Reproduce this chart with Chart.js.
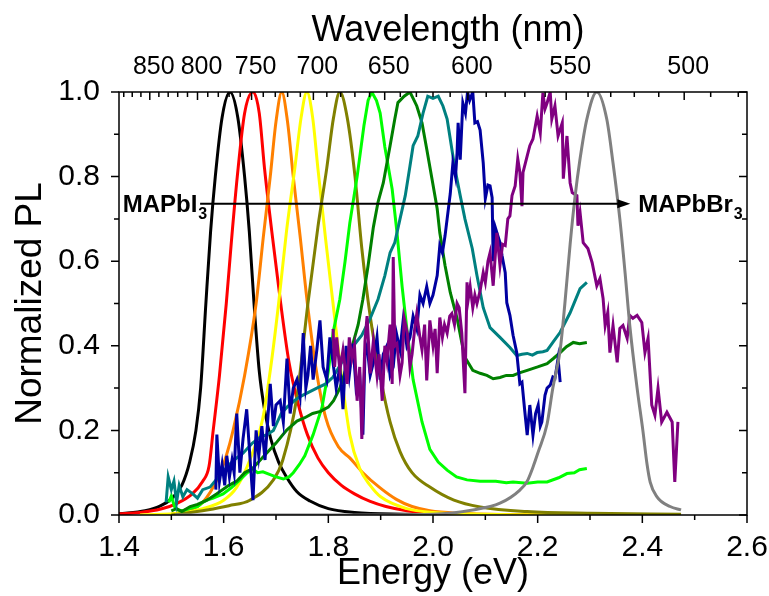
<!DOCTYPE html>
<html>
<head>
<meta charset="utf-8">
<script src="https://cdn.jsdelivr.net/npm/chart.js@4.4.1/dist/chart.umd.min.js"></script>
<style>
  html, body { margin: 0; padding: 0; background: #fff; }
  #wrap { width: 769px; height: 596px; }
</style>
</head>
<body>
<div id="wrap"><canvas id="pl-chart" width="769" height="596"></canvas></div>
<script>
// PL spectra, [energy (eV), normalized PL]
const black = [[1.40,0.003],[1.45,0.01],[1.48,0.022],[1.50,0.038],[1.52,0.07],[1.535,0.125],[1.547,0.2],[1.556,0.3],[1.566,0.5],[1.575,0.67],[1.584,0.8],[1.597,0.94],[1.612,1.0],[1.627,0.94],[1.64,0.8],[1.649,0.67],[1.658,0.5],[1.668,0.34],[1.678,0.25],[1.69,0.18],[1.705,0.125],[1.72,0.09],[1.74,0.055],[1.765,0.033],[1.80,0.015],[1.85,0.006],[1.95,0.002],[2.05,0]];
const red = [[1.40,0.003],[1.44,0.006],[1.48,0.014],[1.51,0.027],[1.54,0.05],[1.56,0.08],[1.572,0.115],[1.58,0.2],[1.592,0.33],[1.605,0.5],[1.615,0.65],[1.626,0.8],[1.64,0.95],[1.656,1.0],[1.668,0.95],[1.678,0.82],[1.692,0.67],[1.709,0.5],[1.725,0.36],[1.743,0.26],[1.76,0.19],[1.78,0.135],[1.80,0.1],[1.825,0.07],[1.85,0.05],[1.88,0.032],[1.91,0.02],[1.95,0.01],[2.0,0.004],[2.1,0.001],[2.3,0]];
const orange = [[1.50,0.002],[1.53,0.01],[1.56,0.03],[1.59,0.09],[1.605,0.14],[1.618,0.2],[1.64,0.33],[1.662,0.5],[1.676,0.66],[1.689,0.8],[1.70,0.93],[1.711,1.0],[1.722,0.93],[1.733,0.8],[1.746,0.66],[1.76,0.5],[1.776,0.35],[1.795,0.23],[1.82,0.16],[1.841,0.135],[1.866,0.1],[1.899,0.064],[1.93,0.037],[1.96,0.02],[1.994,0.01],[2.05,0.004],[2.15,0.001],[2.3,0]];
const yellow = [[1.44,0],[1.52,0.005],[1.56,0.015],[1.60,0.035],[1.625,0.066],[1.65,0.13],[1.675,0.23],[1.69,0.35],[1.705,0.5],[1.72,0.67],[1.736,0.82],[1.748,0.94],[1.759,1.0],[1.77,0.94],[1.78,0.82],[1.795,0.65],[1.809,0.5],[1.825,0.33],[1.841,0.19],[1.86,0.11],[1.88,0.07],[1.90,0.043],[1.95,0.015],[2.0,0.006],[2.1,0.002],[2.29,0]];
const olive = [[1.50,0],[1.568,0.012],[1.61,0.022],[1.65,0.035],[1.695,0.083],[1.713,0.13],[1.74,0.28],[1.761,0.5],[1.78,0.68],[1.797,0.82],[1.81,0.94],[1.822,1.0],[1.836,0.94],[1.851,0.8],[1.864,0.63],[1.88,0.47],[1.899,0.33],[1.918,0.22],[1.937,0.15],[1.96,0.1],[1.994,0.066],[2.04,0.035],[2.09,0.019],[2.18,0.008],[2.3,0.004],[2.474,0.002]];
const lime = [[1.495,0.03],[1.50,0.045],[1.506,0.02],[1.512,0.012],[1.522,0.01],[1.535,0.015],[1.55,0.02],[1.56,0.03],[1.568,0.035],[1.58,0.04],[1.599,0.05],[1.615,0.065],[1.631,0.083],[1.645,0.1],[1.656,0.108],[1.665,0.1],[1.675,0.102],[1.69,0.095],[1.70,0.09],[1.714,0.085],[1.725,0.09],[1.733,0.1],[1.745,0.12],[1.755,0.14],[1.771,0.19],[1.788,0.255],[1.80,0.34],[1.809,0.43],[1.822,0.51],[1.832,0.6],[1.841,0.69],[1.855,0.8],[1.868,0.92],[1.876,0.98],[1.883,1.0],[1.892,0.98],[1.899,0.95],[1.908,0.87],[1.922,0.77],[1.931,0.67],[1.941,0.54],[1.95,0.44],[1.962,0.32],[1.979,0.22],[1.994,0.155],[2.01,0.125],[2.027,0.106],[2.045,0.09],[2.065,0.083],[2.09,0.08],[2.12,0.08],[2.14,0.076],[2.153,0.078],[2.18,0.075],[2.2,0.078],[2.218,0.078],[2.24,0.088],[2.256,0.098],[2.27,0.1],[2.28,0.107],[2.294,0.11]];
const green = [[1.50,0.01],[1.51,0.015],[1.52,0.008],[1.536,0.02],[1.55,0.025],[1.568,0.035],[1.587,0.05],[1.61,0.07],[1.625,0.08],[1.64,0.1],[1.655,0.11],[1.67,0.13],[1.685,0.15],[1.70,0.17],[1.72,0.2],[1.74,0.222],[1.755,0.23],[1.77,0.24],[1.785,0.245],[1.80,0.255],[1.81,0.27],[1.822,0.3],[1.835,0.35],[1.847,0.405],[1.857,0.45],[1.866,0.51],[1.876,0.59],[1.886,0.68],[1.895,0.74],[1.905,0.785],[1.918,0.873],[1.927,0.936],[1.933,0.975],[1.945,0.99],[1.956,1.0],[1.962,0.985],[1.969,0.967],[1.979,0.927],[1.988,0.865],[1.998,0.795],[2.008,0.724],[2.013,0.667],[2.023,0.59],[2.033,0.526],[2.046,0.465],[2.055,0.408],[2.061,0.373],[2.076,0.342],[2.09,0.335],[2.103,0.33],[2.115,0.322],[2.128,0.325],[2.14,0.33],[2.153,0.33],[2.165,0.336],[2.18,0.342],[2.2,0.35],[2.218,0.358],[2.23,0.37],[2.243,0.384],[2.255,0.398],[2.268,0.408],[2.28,0.405],[2.294,0.408]];
const teal = [[1.49,0.03],[1.494,0.09],[1.50,0.06],[1.505,0.08],[1.51,0.03],[1.515,0.07],[1.522,0.043],[1.53,0.06],[1.541,0.05],[1.55,0.04],[1.56,0.06],[1.574,0.066],[1.59,0.09],[1.606,0.113],[1.62,0.13],[1.637,0.146],[1.655,0.17],[1.67,0.184],[1.683,0.19],[1.695,0.2],[1.71,0.24],[1.721,0.255],[1.735,0.27],[1.746,0.28],[1.762,0.29],[1.778,0.30],[1.795,0.31],[1.809,0.326],[1.83,0.37],[1.851,0.405],[1.864,0.425],[1.88,0.465],[1.895,0.51],[1.908,0.566],[1.918,0.62],[1.927,0.644],[1.937,0.70],[1.947,0.755],[1.956,0.825],[1.962,0.873],[1.971,0.896],[1.981,0.95],[1.99,0.99],[2.0,0.985],[2.01,0.99],[2.019,0.967],[2.027,0.936],[2.033,0.889],[2.042,0.818],[2.052,0.755],[2.061,0.70],[2.075,0.63],[2.084,0.566],[2.096,0.49],[2.109,0.443],[2.128,0.42],[2.147,0.396],[2.16,0.377],[2.17,0.38],[2.18,0.382],[2.19,0.378],[2.199,0.384],[2.21,0.386],[2.218,0.389],[2.229,0.408],[2.243,0.432],[2.262,0.478],[2.281,0.535],[2.294,0.55]];
const navy = [[1.585,0.06],[1.587,0.19],[1.592,0.08],[1.597,0.12],[1.602,0.07],[1.606,0.14],[1.611,0.09],[1.616,0.13],[1.62,0.1],[1.625,0.24],[1.631,0.1],[1.637,0.18],[1.644,0.25],[1.65,0.14],[1.656,0.035],[1.662,0.2],[1.667,0.14],[1.673,0.21],[1.679,0.13],[1.684,0.22],[1.689,0.31],[1.695,0.21],[1.70,0.26],[1.708,0.27],[1.714,0.22],[1.721,0.37],[1.727,0.24],[1.733,0.3],[1.74,0.32],[1.746,0.28],[1.752,0.43],[1.757,0.3],[1.761,0.33],[1.766,0.4],[1.771,0.32],[1.778,0.39],[1.784,0.46],[1.79,0.35],[1.797,0.32],[1.803,0.42],[1.809,0.36],[1.815,0.3],[1.822,0.35],[1.828,0.25],[1.834,0.4],[1.84,0.33],[1.847,0.405],[1.853,0.3],[1.86,0.33],[1.866,0.19],[1.87,0.38],[1.874,0.4],[1.88,0.33],[1.886,0.36],[1.893,0.42],[1.899,0.32],[1.905,0.38],[1.912,0.4],[1.918,0.33],[1.924,0.35],[1.93,0.43],[1.937,0.39],[1.943,0.46],[1.95,0.4],[1.956,0.42],[1.962,0.47],[1.969,0.44],[1.975,0.52],[1.981,0.5],[1.988,0.54],[1.994,0.5],[2.0,0.52],[2.008,0.566],[2.013,0.637],[2.018,0.62],[2.023,0.66],[2.027,0.70],[2.033,0.76],[2.038,0.832],[2.043,0.8],[2.046,0.856],[2.048,0.927],[2.052,0.84],[2.057,0.974],[2.062,0.95],[2.066,1.0],[2.07,0.98],[2.073,0.99],[2.076,1.0],[2.08,0.927],[2.085,0.93],[2.09,0.91],[2.096,0.832],[2.1,0.748],[2.105,0.78],[2.109,0.778],[2.113,0.75],[2.115,0.6],[2.119,0.68],[2.124,0.66],[2.128,0.644],[2.132,0.613],[2.138,0.573],[2.141,0.502],[2.147,0.472],[2.153,0.425],[2.16,0.384],[2.166,0.31],[2.17,0.314],[2.175,0.25],[2.18,0.189],[2.185,0.26],[2.191,0.189],[2.196,0.24],[2.201,0.26],[2.205,0.21],[2.208,0.22],[2.214,0.283],[2.218,0.30],[2.224,0.307],[2.229,0.326],[2.233,0.323],[2.239,0.37],[2.243,0.314]];
const purple = [[1.809,0.44],[1.812,0.35],[1.816,0.42],[1.822,0.342],[1.828,0.39],[1.836,0.31],[1.84,0.42],[1.845,0.37],[1.85,0.4],[1.855,0.27],[1.86,0.35],[1.864,0.18],[1.87,0.41],[1.874,0.47],[1.88,0.335],[1.886,0.41],[1.893,0.33],[1.897,0.38],[1.903,0.27],[1.908,0.4],[1.912,0.365],[1.918,0.45],[1.922,0.31],[1.924,0.61],[1.927,0.4],[1.931,0.405],[1.937,0.33],[1.941,0.36],[1.945,0.465],[1.951,0.43],[1.956,0.35],[1.96,0.38],[1.965,0.44],[1.969,0.476],[1.975,0.42],[1.979,0.39],[1.984,0.45],[1.988,0.318],[1.994,0.46],[2.0,0.4],[2.004,0.44],[2.008,0.335],[2.013,0.467],[2.018,0.42],[2.022,0.45],[2.027,0.43],[2.032,0.47],[2.036,0.476],[2.041,0.45],[2.046,0.5],[2.05,0.49],[2.055,0.43],[2.061,0.288],[2.065,0.55],[2.067,0.507],[2.071,0.54],[2.076,0.49],[2.08,0.52],[2.084,0.5],[2.09,0.53],[2.096,0.573],[2.1,0.55],[2.105,0.6],[2.109,0.62],[2.115,0.542],[2.122,0.667],[2.128,0.59],[2.133,0.64],[2.138,0.637],[2.143,0.70],[2.147,0.707],[2.151,0.755],[2.157,0.778],[2.162,0.842],[2.166,0.81],[2.17,0.73],[2.172,0.81],[2.18,0.849],[2.185,0.873],[2.191,0.889],[2.199,0.943],[2.205,0.903],[2.21,0.998],[2.214,0.96],[2.218,0.974],[2.224,1.0],[2.227,0.936],[2.233,0.967],[2.239,0.896],[2.247,0.927],[2.249,0.795],[2.256,0.896],[2.262,0.785],[2.266,0.762],[2.275,0.755],[2.277,0.684],[2.281,0.715],[2.287,0.644],[2.296,0.63],[2.304,0.597],[2.313,0.542],[2.319,0.559],[2.325,0.512],[2.329,0.448],[2.334,0.479],[2.338,0.384],[2.344,0.448],[2.352,0.361],[2.357,0.441],[2.363,0.448],[2.371,0.418],[2.376,0.472],[2.382,0.465],[2.39,0.472],[2.399,0.455],[2.405,0.384],[2.411,0.418],[2.418,0.26],[2.424,0.236],[2.43,0.3],[2.437,0.22],[2.447,0.243],[2.457,0.22],[2.462,0.078],[2.468,0.22]];
const gray = [[1.507,0],[1.8,0],[2.0,0.002],[2.076,0.012],[2.128,0.028],[2.166,0.059],[2.18,0.08],[2.191,0.113],[2.201,0.149],[2.218,0.215],[2.229,0.3],[2.243,0.39],[2.252,0.5],[2.262,0.64],[2.271,0.748],[2.281,0.842],[2.294,0.936],[2.313,1.0],[2.332,0.936],[2.344,0.832],[2.357,0.70],[2.367,0.573],[2.376,0.448],[2.39,0.3],[2.401,0.2],[2.409,0.12],[2.415,0.078],[2.428,0.043],[2.453,0.02],[2.474,0.012]];

// top axis tick labels (nm)
const wavelengthTicks = [850, 800, 750, 700, 650, 600, 550, 500];

// arrow + composition labels, in data units
const arrowPL = 0.736;
const arrowFromE = 1.555;
const arrowToE = 2.377;
const labelLeftE = 1.407;
const labelRightE = 2.392;

const FONT = 'Liberation Sans, Arial, sans-serif';

const series = [
    { data: black,  color: '#000000', noisy: false },
    { data: red,    color: '#ff0000', noisy: false },
    { data: orange, color: '#ff8000', noisy: false },
    { data: yellow, color: '#ffff00', noisy: false },
    { data: olive,  color: '#808000', noisy: false },
    { data: lime,   color: '#00ff00', noisy: true },
    { data: green,  color: '#008000', noisy: true },
    { data: teal,   color: '#008080', noisy: true },
    { data: navy,   color: '#0000a0', noisy: true },
    { data: purple, color: '#800080', noisy: true },
    { data: gray,   color: '#808080', noisy: false }
];

const datasets = series.map(function(s, i) {
    return {
        data: s.data.map(function(p) { return { x: p[0], y: p[1] }; }),
        borderColor: s.color,
        borderWidth: 3,
        pointRadius: 0,
        showLine: true,
        fill: false,
        tension: 0,
        cubicInterpolationMode: s.noisy ? 'default' : 'monotone',
        // later spectra sit on top, like the original plot
        order: series.length - i
    };
});

// frame and all tick marks (minor ticks are not supported natively)
const frameTicks = {
    id: 'frameTicks',
    afterDraw(chart) {
        const { ctx, chartArea, scales } = chart;
        const { left, right, top, bottom } = chartArea;
        ctx.save();
        ctx.strokeStyle = '#000';
        ctx.lineWidth = 1.5;
        ctx.strokeRect(left, top, right - left, bottom - top);
        ctx.beginPath();
        for (let i = 0; i <= 12; i++) {
            const x = scales.x.getPixelForValue(1.4 + i * 0.1);
            const len = i % 2 === 0 ? 8 : 5;
            ctx.moveTo(x, bottom);
            ctx.lineTo(x, bottom + len);
        }
        for (let i = 0; i <= 10; i++) {
            const y = scales.y.getPixelForValue(i * 0.1);
            const len = i % 2 === 0 ? 8 : 5;
            ctx.moveTo(left - len, y);
            ctx.lineTo(left, y);
            ctx.moveTo(right - len, y);
            ctx.lineTo(right, y);
        }
        for (let w = 480; w <= 880; w += 10) {
            const x = scales.x2.getPixelForValue(1240 / w);
            const len = w % 50 === 0 ? 8 : 5;
            ctx.moveTo(x, top);
            ctx.lineTo(x, top + len);
        }
        ctx.stroke();
        ctx.restore();
    }
};

function drawFormula(ctx, main, sub, x, baseY) {
    ctx.font = 'bold 24px ' + FONT;
    ctx.textAlign = 'left';
    ctx.textBaseline = 'alphabetic';
    ctx.fillText(main, x, baseY);
    const w = ctx.measureText(main).width;
    ctx.font = 'bold 16px ' + FONT;
    ctx.fillText(sub, x + w + 1, baseY + 7);
}

const annotations = {
    id: 'annotations',
    afterDraw(chart) {
        const { ctx, chartArea, scales: { x, y } } = chart;
        const yA = y.getPixelForValue(arrowPL);
        const x0 = x.getPixelForValue(arrowFromE);
        const x1 = x.getPixelForValue(arrowToE);
        ctx.save();
        ctx.strokeStyle = '#000';
        ctx.fillStyle = '#000';
        ctx.lineWidth = 2;
        ctx.beginPath();
        ctx.moveTo(x0, yA);
        ctx.lineTo(x1 - 8, yA);
        ctx.stroke();
        ctx.beginPath();
        ctx.moveTo(x1, yA);
        ctx.lineTo(x1 - 13, yA - 4.5);
        ctx.lineTo(x1 - 13, yA + 4.5);
        ctx.closePath();
        ctx.fill();

        drawFormula(ctx, 'MAPbI', '3', x.getPixelForValue(labelLeftE), yA + 8);
        drawFormula(ctx, 'MAPbBr', '3', x.getPixelForValue(labelRightE), yA + 8);

        // top axis title, sits a bit right of the plot centre in the original
        ctx.font = '36px ' + FONT;
        ctx.textAlign = 'center';
        ctx.textBaseline = 'middle';
        ctx.fillText('Wavelength (nm)', (chartArea.left + chartArea.right) / 2 + 15, 31);
        ctx.restore();
    }
};

// keep the plot box fixed, let edge tick labels hang over the margins
function noSidePadding(scale) {
    scale.paddingLeft = 0;
    scale.paddingRight = 0;
}

new Chart(document.getElementById('pl-chart'), {
    type: 'scatter',
    data: { datasets: datasets },
    options: {
        responsive: false,
        animation: false,
        devicePixelRatio: 1,
        layout: { padding: { left: 0, right: 22, top: 0, bottom: 0 } },
        plugins: {
            legend: { display: false },
            tooltip: { enabled: false }
        },
        scales: {
            x: {
                type: 'linear',
                position: 'bottom',
                min: 1.4,
                max: 2.6,
                grid: { display: false },
                border: { display: false },
                ticks: {
                    stepSize: 0.2,
                    padding: 7,
                    color: '#000',
                    font: { family: FONT, size: 30 },
                    maxRotation: 0,
                    callback: function(v) { return v.toFixed(1); }
                },
                title: {
                    display: true,
                    text: 'Energy (eV)',
                    color: '#000',
                    font: { family: FONT, size: 36 },
                    padding: { top: 0, bottom: 0 }
                },
                afterFit: function(scale) {
                    scale.height = 81;
                    noSidePadding(scale);
                }
            },
            x2: {
                type: 'linear',
                position: 'top',
                min: 1.4,
                max: 2.6,
                grid: { display: false },
                border: { display: false },
                afterBuildTicks: function(scale) {
                    scale.ticks = wavelengthTicks.map(function(w) { return { value: 1240 / w }; });
                },
                ticks: {
                    autoSkip: false,
                    maxRotation: 0,
                    padding: 2,
                    labelOffset: 4,
                    color: '#000',
                    font: { family: FONT, size: 25 },
                    callback: function(v, i) { return String(wavelengthTicks[i]); }
                },
                afterFit: function(scale) {
                    scale.height = 92;
                    noSidePadding(scale);
                }
            },
            y: {
                type: 'linear',
                min: 0,
                max: 1,
                grid: { display: false },
                border: { display: false },
                ticks: {
                    stepSize: 0.2,
                    padding: 11,
                    color: '#000',
                    font: { family: FONT, size: 30 },
                    callback: function(v) { return v.toFixed(1); }
                },
                title: {
                    display: true,
                    text: 'Normalized PL',
                    color: '#000',
                    font: { family: FONT, size: 37 },
                    padding: { top: 9, bottom: 0 }
                },
                afterFit: function(scale) { scale.width = 119; }
            }
        }
    },
    plugins: [frameTicks, annotations]
});
</script>
</body>
</html>
